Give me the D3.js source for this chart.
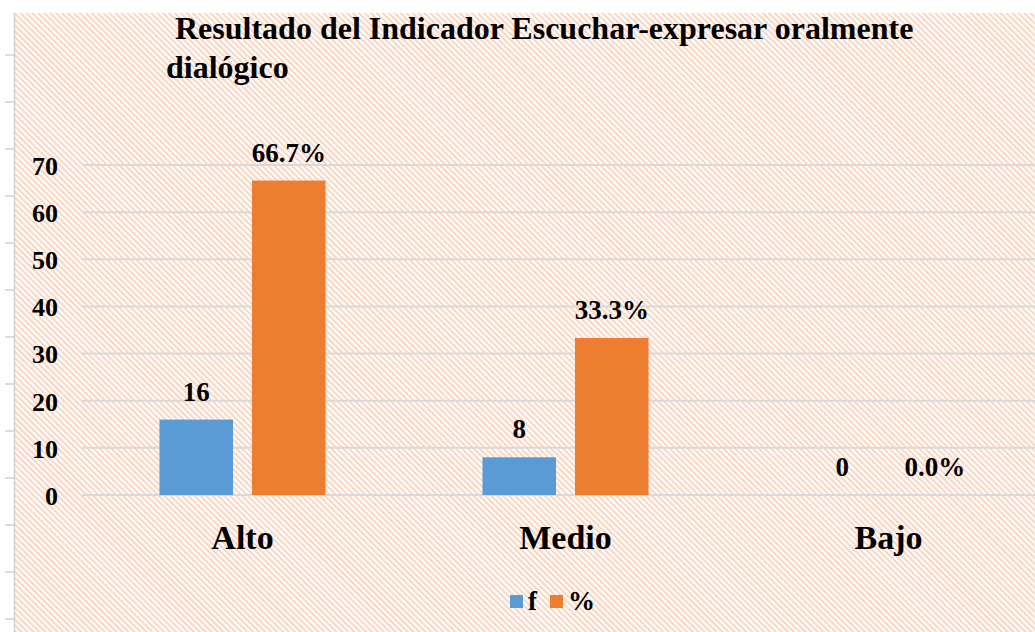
<!DOCTYPE html>
<html lang="es">
<head>
<meta charset="UTF-8">
<title>Resultado del Indicador Escuchar-expresar oralmente dialógico</title>
<script src="https://d3js.org/d3.v7.min.js"></script>
<style>
  body { margin: 0; background: #fff; }
  svg text { font-family: 'Liberation Serif', 'DejaVu Serif', serif !important; font-weight: bold; fill: #000; }
</style>
</head>
<body>
<svg width="1035" height="632"></svg>
<script>
// datos
var categorias = ["Alto", "Medio", "Bajo"];
var series = ["f", "%"];
var valoresF = [16, 8, 0];
var valoresPct = [66.7, 33.3, 0.0];
var ticksY = [0, 10, 20, 30, 40, 50, 60, 70];
var colores = { "f": "#5b9bd5", "%": "#ed7d31" };

var svg = d3.select("svg");
var W = 1035, H = 632;
var fuente = "'Liberation Serif', 'DejaVu Serif', serif";

// fondo rayado
var defs = svg.append("defs");
var pat = defs.append("pattern")
  .attr("id", "rayas")
  .attr("patternUnits", "userSpaceOnUse")
  .attr("width", 4.2).attr("height", 4.2)
  .attr("patternTransform", "rotate(-45)");
pat.append("rect").attr("width", 4.2).attr("height", 4.2).attr("fill", "#fff");
pat.append("rect").attr("width", 2.1).attr("height", 4.2).attr("fill", "#fbd6c2");

svg.append("rect")
  .attr("x", 15).attr("y", 13)
  .attr("width", W - 15).attr("height", H - 13)
  .attr("fill", "url(#rayas)");

// regla de la izquierda
svg.append("line")
  .attr("x1", 14.5).attr("x2", 14.5).attr("y1", 13).attr("y2", H)
  .attr("stroke", "#d0d0d0").attr("stroke-width", 1.5);
svg.selectAll(".regla").data(d3.range(13)).enter().append("line")
  .attr("class", "regla")
  .attr("x1", 5).attr("x2", 14)
  .attr("y1", function(d){ return 55 + d * 47; })
  .attr("y2", function(d){ return 55 + d * 47; })
  .attr("stroke", "#d0d0d0").attr("stroke-width", 1.5);

// escalas
var x0 = d3.scaleBand().domain(categorias).range([81, 1050]);
var x1 = d3.scaleBand().domain(series).range([0, x0.bandwidth()])
  .paddingInner(0.205).paddingOuter(0.848);
var y = d3.scaleLinear().domain([0, 70]).range([495, 165]);

// lineas de cuadricula
svg.selectAll(".grid").data(ticksY).enter().append("line")
  .attr("class", "grid")
  .attr("x1", 82).attr("x2", W)
  .attr("y1", function(d){ return y(d); })
  .attr("y2", function(d){ return y(d); })
  .attr("stroke", "#d9d9d9").attr("stroke-width", 2);

// eje y
var ejeY = svg.append("g")
  .attr("transform", "translate(58,0)")
  .attr("font-family", fuente)
  .call(d3.axisLeft(y).tickValues(ticksY).tickSize(0).tickPadding(0));
ejeY.select(".domain").remove();
ejeY.selectAll("text")
  .attr("font-size", 26)
  .attr("dy", "0.36em")
  .attr("fill", "#000");

// eje x
var ejeX = svg.append("g")
  .attr("transform", "translate(0,549)")
  .attr("font-family", fuente)
  .call(d3.axisBottom(x0).tickSize(0).tickPadding(0));
ejeX.select(".domain").remove();
ejeX.selectAll("text")
  .attr("font-size", 34)
  .attr("y", 0).attr("dy", 0)
  .attr("fill", "#000");

// barras
var filas = categorias.map(function(c, i){
  return { cat: c, valores: [ { s: "f", v: valoresF[i], lab: String(valoresF[i]) },
                              { s: "%", v: valoresPct[i], lab: valoresPct[i].toFixed(1) + "%" } ] };
});
var grupos = svg.selectAll(".grupo").data(filas).enter().append("g")
  .attr("class", "grupo")
  .attr("transform", function(d){ return "translate(" + x0(d.cat) + ",0)"; });

grupos.selectAll("rect").data(function(d){ return d.valores; }).enter().append("rect")
  .attr("x", function(d){ return x1(d.s); })
  .attr("width", x1.bandwidth())
  .attr("y", function(d){ return y(d.v); })
  .attr("height", function(d){ return y(0) - y(d.v); })
  .attr("fill", function(d){ return colores[d.s]; });

grupos.selectAll(".etiqueta").data(function(d){ return d.valores; }).enter().append("text")
  .attr("class", "etiqueta")
  .attr("x", function(d){ return x1(d.s) + x1.bandwidth() / 2; })
  .attr("y", function(d){ return y(d.v) - 19; })
  .attr("text-anchor", "middle")
  .attr("font-size", 27)
  .text(function(d){ return d.lab; });

// titulo
svg.append("text").attr("x", 175).attr("y", 39).attr("font-size", 32)
  .text("Resultado del Indicador Escuchar-expresar oralmente");
svg.append("text").attr("x", 166).attr("y", 78).attr("font-size", 32)
  .text("dialógico");

// leyenda
var leyenda = svg.append("g").attr("transform", "translate(510,595)");
var itemX = { "f": 0, "%": 40 };
series.forEach(function(s){
  var it = leyenda.append("g").attr("transform", "translate(" + itemX[s] + ",0)");
  it.append("rect").attr("width", 13).attr("height", 13).attr("fill", colores[s]);
  it.append("text").attr("x", 18).attr("y", 15).attr("font-size", 27).text(s);
});
</script>
</body>
</html>
